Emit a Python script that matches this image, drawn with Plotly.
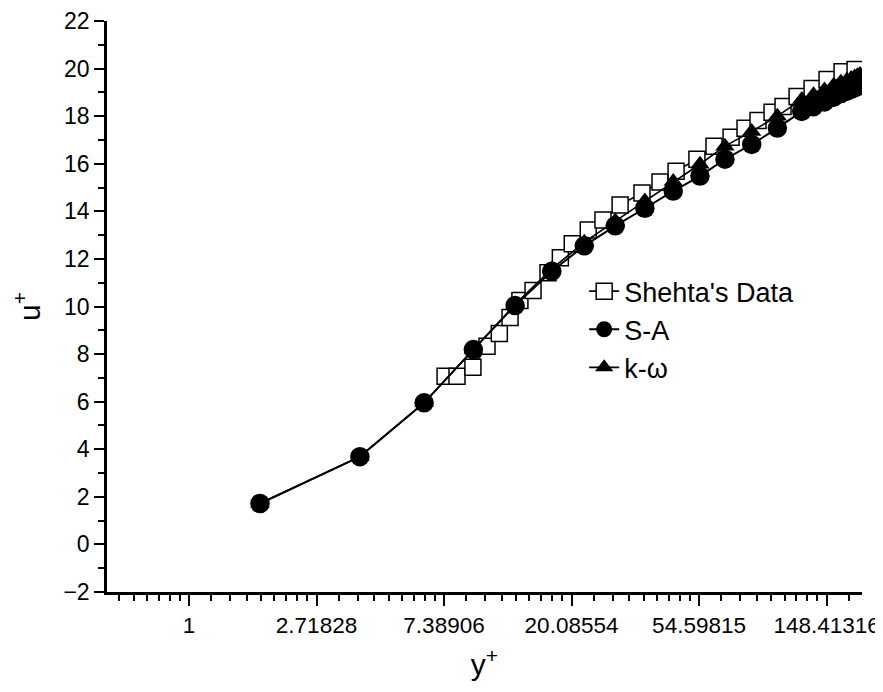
import math
import plotly.graph_objects as go

# ---------------- data ----------------
shehta_x = [7.45, 8.18, 9.27, 10.35, 11.4, 12.4, 13.4, 14.85, 16.7, 18.4, 20.2, 22.9,
            25.7, 29.4, 34.9, 40.2, 45.6, 53.7, 61.4, 70.2, 78.3, 86.7, 96.8, 105.5,
            117.8, 132.5, 149.0, 167.6, 185.6]
shehta_y = [7.07, 7.07, 7.45, 8.33, 8.87, 9.54, 10.25, 10.67, 11.42, 12.05, 12.64, 13.22,
            13.64, 14.27, 14.77, 15.23, 15.69, 16.19, 16.74, 17.11, 17.49, 17.82, 18.16, 18.41,
            18.83, 19.16, 19.54, 19.87, 19.96]

sa_x = [1.745, 3.82, 6.32, 9.30, 12.9, 17.2, 22.2, 28.3, 35.7, 44.6, 55.0, 66.9, 82.5,
        100.9, 122.2, 134, 146, 157, 166, 174, 180, 185, 189, 193]
sa_y = [1.72, 3.69, 5.95, 8.19, 10.04, 11.48, 12.55, 13.39, 14.13, 14.85, 15.48, 16.19, 16.81,
        17.5, 18.2, 18.4, 18.6, 18.8, 18.95, 19.05, 19.13, 19.2, 19.25, 19.3]

kw_x = [1.745, 3.82, 6.32, 9.30, 12.9, 17.2, 22.2, 28.3, 35.7, 44.6, 55.0, 66.9, 82.5,
        100.9, 122.2, 134, 146, 157, 166, 174, 180, 185, 189, 193]
kw_y = [1.72, 3.69, 5.95, 8.19, 10.09, 11.58, 12.70, 13.59, 14.43, 15.25, 15.98, 16.74, 17.36,
        18.0, 18.7, 18.9, 19.1, 19.3, 19.43, 19.51, 19.58, 19.65, 19.7, 19.75]

x_tick_vals = [1, math.e, math.e ** 2, math.e ** 3, math.e ** 4, math.e ** 5]
x_tick_text = ["1", "2.71828", "7.38906", "20.08554", "54.59815", "148.41316"]
y_tick_vals = [-2, 0, 2, 4, 6, 8, 10, 12, 14, 16, 18, 20, 22]

series_names = ["Shehta's Data", "S-A", "k-\u03c9"]

# minor ticks: 8 linear subdivisions between successive powers of e
minor_vals = []
for n in range(-1, 6):
    a, b = math.e ** n, math.e ** (n + 1)
    for k in range(1, 9):
        minor_vals.append(a + k * (b - a) / 9)

FONT = "Liberation Sans, Arial, sans-serif"

fig = go.Figure()
fig.add_trace(go.Scatter(
    x=shehta_x, y=shehta_y, name=series_names[0], mode="lines+markers",
    line=dict(color="black", width=1.6),
    marker=dict(symbol="square", size=16, color="white",
                line=dict(color="black", width=1.5))))
fig.add_trace(go.Scatter(
    x=sa_x, y=sa_y, name=series_names[1], mode="lines+markers",
    line=dict(color="black", width=2),
    marker=dict(symbol="circle", size=19.5, color="black")))
fig.add_trace(go.Scatter(
    x=kw_x, y=kw_y, name=series_names[2], mode="lines+markers",
    line=dict(color="black", width=1.6),
    marker=dict(symbol="triangle-up", size=17, color="black")))

# the page body adds an 8 px offset, so the figure is sized to fit the window
fig.update_layout(
    template="none",
    width=875, height=684, autosize=False,
    margin=dict(l=99, r=21, t=13, b=100, autoexpand=False),
    paper_bgcolor="white", plot_bgcolor="white",
    font=dict(family=FONT, color="black", size=23),
    showlegend=True,
    legend=dict(x=0.632, y=0.569, xanchor="left", yanchor="top",
                bgcolor="rgba(0,0,0,0)", borderwidth=0,
                font=dict(size=27, family=FONT), tracegroupgap=0),
    xaxis=dict(
        type="log", range=[-0.2793, 2.2922], automargin=False,
        tickmode="array", tickvals=x_tick_vals, ticktext=x_tick_text,
        ticks="outside", ticklen=11, tickwidth=2, tickcolor="black",
        showline=True, linecolor="black", linewidth=2.5, mirror=False,
        showgrid=False, zeroline=False,
        tickfont=dict(size=22.5, family=FONT),
        minor=dict(tickmode="array", tickvals=minor_vals, ticks="outside",
                   ticklen=6, tickwidth=2, tickcolor="black", showgrid=False),
        title=dict(text="y<sup>+</sup>", font=dict(size=30, family=FONT), standoff=18),
    ),
    yaxis=dict(
        range=[-2, 22], automargin=False, tickmode="array", tickvals=y_tick_vals,
        ticks="outside", ticklen=10, tickwidth=2, tickcolor="black",
        showline=True, linecolor="black", linewidth=2.5, mirror=False,
        showgrid=False, zeroline=False,
        tickfont=dict(size=23, family=FONT),
        minor=dict(dtick=1, tick0=-1, ticks="outside", ticklen=6, tickwidth=2,
                   tickcolor="black", showgrid=False),
        title=dict(text="u<sup>+</sup>", font=dict(size=30, family=FONT), standoff=18),
    ),
)

fig.write_html("out.html")
